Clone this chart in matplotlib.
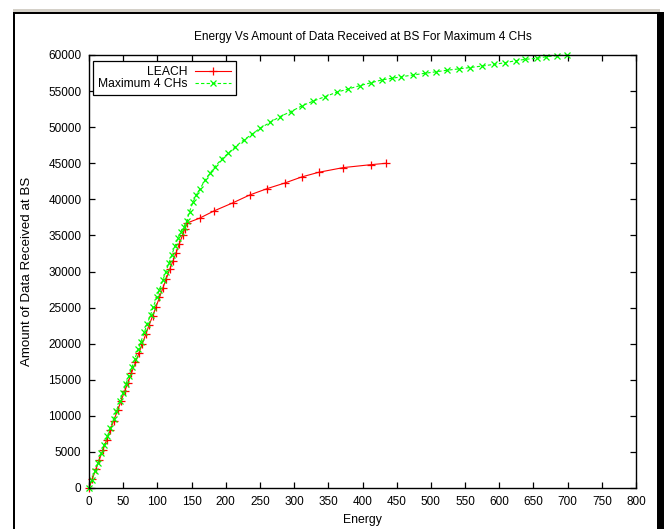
import matplotlib
matplotlib.use("Agg")
import matplotlib.pyplot as plt
from matplotlib.patches import Rectangle

plt.rcParams['font.family'] = ['Liberation Sans', 'DejaVu Sans']

# LEACH series (energy, data received at BS)
leach_energy = [0, 5, 10, 15, 20, 26, 31, 36, 42, 47, 52, 57, 62, 68, 73, 78,
                83, 88, 93, 98, 103, 108, 113, 118, 123, 127, 132, 137, 140, 143,
                162, 183, 210, 235, 261, 286, 311, 336, 372, 412, 435]
leach_data = [0, 1300, 2600, 3900, 5200, 6700, 8000, 9300, 10800, 12100, 13400,
              14600, 15900, 17400, 18700, 20000, 21300, 22600, 23800, 25100,
              26400, 27700, 29000, 30300, 31500, 32500, 33800, 35100, 35900, 36700,
              37400, 38400, 39500, 40600, 41500, 42250, 43100, 43750, 44400,
              44800, 45000]

# Maximum 4 CHs series
max4_energy = [0, 4, 9, 13, 18, 22, 27, 31, 36, 40, 45, 49, 54, 58, 63, 67, 72,
               76, 81, 85, 90, 94, 99, 103, 108, 112, 117, 121, 126, 130, 134,
               139, 143, 147, 152, 157, 162, 170, 177, 184, 194, 204, 214, 226,
               238, 250, 265, 279, 295, 311, 328, 345, 362, 379, 396, 413, 428,
               443, 457, 474, 491, 508, 524, 541, 557, 575, 592, 608, 624, 638,
               655, 669, 684, 699]
max4_data = [0, 1100, 2400, 3500, 4800, 5900, 7200, 8300, 9600, 10700, 12000,
             13100, 14400, 15500, 16800, 17900, 19200, 20300, 21600, 22700,
             24000, 25100, 26400, 27500, 28800, 29900, 31200, 32300, 33600,
             34600, 35500, 36200, 37000, 38300, 39600, 40600, 41400, 42700,
             43600, 44500, 45600, 46400, 47300, 48200, 49000, 49840, 50670,
             51450, 52150, 52930, 53620, 54220, 54830, 55290, 55750, 56170,
             56540, 56770, 56990, 57230, 57460, 57680, 57890, 58080, 58260,
             58470, 58700, 58930, 59210, 59400, 59540, 59770, 59900, 60000]

x_ticks = list(range(0, 801, 50))
y_ticks = list(range(0, 60001, 5000))

W, H = 664, 529
fig = plt.figure(figsize=(W / 100, H / 100), dpi=100)

# window frame around the plot
def frame_rect(x0, y0, x1, y1, color):
    # pixel box, y measured from top
    fig.patches.append(Rectangle((x0 / W, 1 - y1 / H), (x1 - x0) / W,
                                 (y1 - y0) / H, transform=fig.transFigure,
                                 facecolor=color, edgecolor='none', zorder=-5))

frame_rect(13, 9, 660, H, '#d4d0c8')
frame_rect(13, 12, 658, H, 'black')
frame_rect(15, 14, 658, H, 'white')
frame_rect(657, 12, W, H, 'black')

ax = fig.add_axes([89 / W, 1 - 488 / H, (636 - 89) / W, (488 - 55) / H])
ax.set_facecolor('none')
ax.set_zorder(2)

ax.plot(leach_energy, leach_data, color='#ff0000', lw=0.8, marker='+',
        markersize=5.5, markeredgewidth=0.9, label='LEACH', clip_on=False)
ax.plot(max4_energy, max4_data, color='#00ff00', lw=0.8, ls=(0, (3, 2)),
        marker='x', markersize=4.5, markeredgewidth=0.9,
        label='Maximum 4 CHs', clip_on=False)

ax.set_xlim(0, 800)
ax.set_ylim(0, 60000)
ax.set_xticks(x_ticks)
ax.set_yticks(y_ticks)
ax.tick_params(direction='in', length=4.5, width=0.9, labelsize=8.5,
               top=True, right=True, pad=5.5)
for s in ax.spines.values():
    s.set_linewidth(1.0)

ax.set_title('Energy Vs Amount of Data Received at BS For Maximum 4 CHs',
             fontsize=8.6, pad=11)
ax.set_xlabel('Energy', fontsize=8.8)
ax.xaxis.set_label_coords(0.5, -(514 - 488) / 433)
ax.set_ylabel('Amount of Data Received at BS', fontsize=9.6)
ax.yaxis.set_label_coords(-(89 - 33) / 547, 0.5)

leg = ax.legend(loc='upper left', bbox_to_anchor=(4 / 547, 1 - 6 / 433),
                borderaxespad=0, markerfirst=False, fancybox=False,
                fontsize=8.7, handlelength=3.0, labelspacing=0.0,
                borderpad=0.4, handletextpad=0.6, framealpha=1)
leg.get_frame().set_edgecolor('black')
leg.get_frame().set_linewidth(0.9)

fig.savefig('out.png', dpi=100)
